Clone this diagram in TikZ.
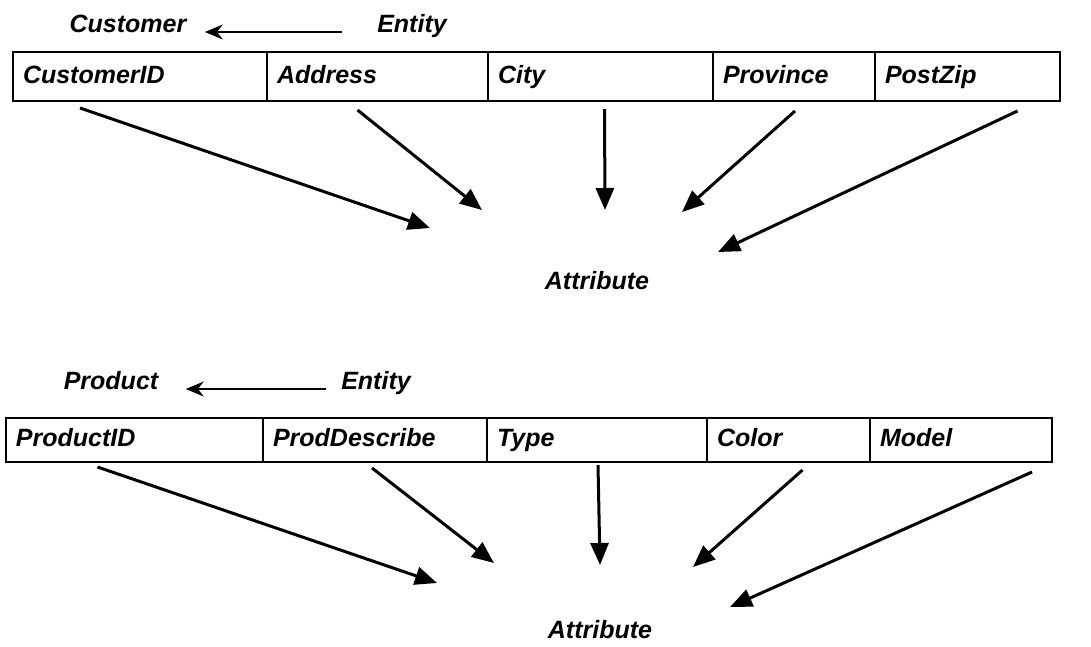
\documentclass[tikz,border=0pt]{standalone}
\usepackage{fontspec}
\setmainfont{Liberation Sans}
\usetikzlibrary{arrows.meta}
\usetikzlibrary{positioning}

\begin{document}
\begin{tikzpicture}[x=1pt,y=-1pt]
\tikzstyle{every node}=[font=\fontsize{25}{29}\selectfont\bfseries\itshape]
\tikzset{field/.style={draw,line width=1.6pt,outer sep=0pt,inner xsep=10pt,inner ysep=0pt,minimum height=#1,text height=18pt,text depth=5pt,align=left}}
\tikzstyle{pointer}=[line width=3pt,-{Triangle[length=22pt,width=18pt]}]
\tikzstyle{isa}=[line width=2pt,-{Stealth[length=18pt,width=15pt]}]
\useasboundingbox (0,0) rectangle (1091,646);
% customer entity
\node[anchor=base] (cust) at (128,32) {Customer};
\node[anchor=base] (ent1) at (412,32) {Entity};
\draw[isa,shorten <=32pt,shorten >=15pt] (ent1.base west) -- (cust.base east);
\node[field=49pt,text width=234pt,anchor=north west] (cid) at (13,52) {CustomerID};
\node[field=49pt,text width=201pt,right=0pt of cid] (addr) {Address};
\node[field=49pt,text width=205pt,right=0pt of addr] (city) {City};
\node[field=49pt,text width=142pt,right=0pt of city] (prov) {Province};
\node[field=49pt,text width=165pt,right=0pt of prov] (zip) {PostZip};
\node (attr1) at (597,281) {Attribute};
\coordinate (a1) at (430,228);
\coordinate (a2) at (482,210);
\coordinate (a3) at (605,210);
\coordinate (a4) at (682,212);
\coordinate (a5) at (718,252);
\draw[pointer] ([xshift=-60pt,yshift=-7pt]cid.south) -- (a1);
\draw[pointer] ([xshift=-20pt,yshift=-9pt]addr.south) -- (a2);
\draw[pointer] ([xshift=4pt,yshift=-8pt]city.south) -- (a3);
\draw[pointer] ([xshift=1pt,yshift=-10pt]prov.south) -- (a4);
\draw[pointer] ([xshift=50pt,yshift=-10pt]zip.south) -- (a5);
% product entity
\node[anchor=base] (prod) at (111,389) {Product};
\node[anchor=base] (ent2) at (376,389) {Entity};
\draw[isa,shorten <=12pt,shorten >=24pt] (ent2.base west) -- (prod.base east);
\node[field=44pt,text width=237pt,anchor=north west] (pid) at (6,418) {ProductID};
\node[field=44pt,text width=204pt,right=0pt of pid] (desc) {ProdDescribe};
\node[field=44pt,text width=200pt,right=0pt of desc] (type) {Type};
\node[field=44pt,text width=143pt,right=0pt of type] (color) {Color};
\node[field=44pt,text width=162pt,right=0pt of color] (model) {Model};
\node (attr2) at (600,630) {Attribute};
\coordinate (b1) at (437,583);
\coordinate (b2) at (494,563);
\coordinate (b3) at (600,565);
\coordinate (b4) at (693,567);
\coordinate (b5) at (730,607);
\draw[pointer] ([xshift=-37pt,yshift=-5pt]pid.south) -- (b1);
\draw[pointer] ([xshift=-3pt,yshift=-6pt]desc.south) -- (b2);
\draw[pointer] ([xshift=1pt,yshift=-3pt]type.south) -- (b3);
\draw[pointer] ([xshift=14pt,yshift=-8pt]color.south) -- (b4);
\draw[pointer] ([xshift=71pt,yshift=-10pt]model.south) -- (b5);
\end{tikzpicture}
\end{document}
